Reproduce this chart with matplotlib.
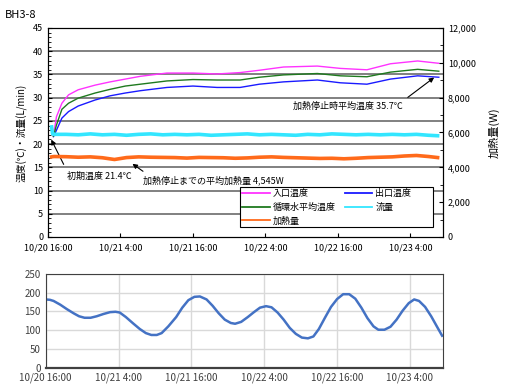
import datetime as dt
import matplotlib
matplotlib.use('Agg')
import matplotlib.pyplot as plt
import matplotlib.dates as mdates
from matplotlib.patches import Rectangle
from matplotlib.ticker import FuncFormatter, MultipleLocator

plt.rcParams['font.family'] = ['Noto Sans CJK JP', 'DejaVu Sans']

start = dt.datetime(2000, 10, 20, 16, 0)

# temperatures (hours since 10/20 16:00)
temp_hours = [0.9, 1.4, 2.3, 3.4, 5, 7.8, 10.3, 12.8, 15.3, 19.7, 24, 28, 31.8, 35, 39,
              44.6, 48.4, 52.8, 56.7, 61.2, 64.7]
inlet_temp = [21.8, 25.9, 28.8, 30.6, 31.7, 32.7, 33.4, 34.0, 34.6, 35.3, 35.3, 35.1,
              35.4, 35.9, 36.6, 36.8, 36.3, 36.0, 37.3, 37.9, 37.4]
outlet_temp = [21.6, 23.0, 25.6, 27.0, 28.2, 29.5, 30.4, 31.0, 31.5, 32.2, 32.5, 32.2,
               32.2, 32.9, 33.4, 33.8, 33.2, 32.9, 34.0, 34.7, 34.4]
avg_temp = [21.7, 24.1, 27.5, 28.8, 29.9, 31.0, 31.8, 32.5, 32.9, 33.6, 33.9, 33.8,
            33.8, 34.4, 34.9, 35.2, 34.7, 34.5, 35.5, 36.1, 35.7]

# flow and heat
flow_hours = [0.6, 0.75, 1, 3, 5, 7, 9, 11, 13, 15, 17, 19, 21, 23, 25, 27, 29, 31, 33,
              35, 37, 39, 41, 43, 45, 47, 49, 51, 53, 55, 57, 59, 61, 63, 64.5]
flow = [23.7, 22.2, 22.1, 22.1, 22.0, 22.2, 22.0, 22.1, 21.9, 22.1, 22.2, 22.0, 22.1,
        22.0, 22.1, 21.9, 22.0, 22.1, 22.2, 22.0, 22.1, 22.0, 21.9, 22.1, 22.0, 22.2,
        22.1, 22.0, 22.1, 22.0, 22.1, 22.0, 22.1, 21.9, 21.8]
heat = [4600, 4610, 4620, 4610, 4580, 4600, 4550, 4450, 4560, 4600, 4580, 4570, 4560,
        4530, 4570, 4560, 4550, 4520, 4540, 4580, 4600, 4570, 4550, 4530, 4510, 4520,
        4490, 4520, 4560, 4580, 4600, 4650, 4680, 4620, 4560]

# lower panel
low_hours = [0, 0.7, 1.3, 2.4, 3.5, 4.6, 5.5, 6.4, 7.4, 8.4, 9.5, 10.6, 11.5, 12.2,
             13.2, 14.4, 15.5, 16.5, 17.4, 18.3, 19.1, 20.2, 21.5, 22.5, 23.5, 24.5,
             25.4, 26.5, 27.5, 28.5, 29.5, 30.5, 31.2, 32.2, 33.3, 34.3, 35.3, 36.3,
             37.2, 38.2, 39.2, 40.2, 41.2, 42.2, 43.2, 44.1, 45, 46, 47, 48, 49, 50,
             51, 52, 53, 54, 54.8, 55.8, 56.8, 57.8, 58.8, 59.8, 60.7, 61.5, 62.5,
             63.5, 64.5, 65.3]
low_vals = [182, 181, 178, 168, 156, 145, 137, 133, 133, 137, 143, 148, 149, 147,
            135, 118, 103, 92, 87, 87, 92, 110, 135, 160, 180, 189, 190, 182, 165,
            145, 128, 119, 117, 122, 135, 148, 160, 164, 161, 147, 128, 106, 90, 80,
            78, 83, 103, 133, 162, 183, 196, 196, 184, 160, 132, 110, 101, 101, 109,
            128, 152, 172, 182, 178, 162, 137, 108, 85]

tick_hours = [0, 12, 24, 36, 48, 60]


def to_dates(hours):
    return [start + dt.timedelta(hours=h) for h in hours]


def fmt_date(x, pos):
    d = mdates.num2date(x)
    return f'{d.month}/{d.day} {d.hour}:{d.minute:02d}'


x0 = start
x1 = start + dt.timedelta(hours=65.4)
ticks = to_dates(tick_hours)

fig = plt.figure(figsize=(5.07, 3.91), dpi=100)

# ---- top panel
ax = fig.add_axes([0.0947, 0.3939, 0.7791, 0.5345])
ax2 = ax.twinx()
l1, = ax.plot(to_dates(temp_hours), inlet_temp, color='#ff33ff', lw=1.0, label='入口温度')
l2, = ax.plot(to_dates(temp_hours), outlet_temp, color='#1a1aff', lw=1.0, label='出口温度')
l3, = ax.plot(to_dates(temp_hours), avg_temp, color='#1f7a1f', lw=1.0, label='循環水平均温度')
l4, = ax.plot(to_dates(flow_hours), flow, color='#33e6ff', lw=2.6, label='流量')
l5, = ax2.plot(to_dates(flow_hours), heat, color='#ff6a1a', lw=2.6, label='加熱量')

ax.set_xlim(x0, x1)
ax.set_ylim(0, 45)
ax2.set_ylim(0, 12000)
ax.yaxis.set_major_locator(MultipleLocator(5))
ax.yaxis.set_minor_locator(MultipleLocator(1))
ax2.yaxis.set_major_locator(MultipleLocator(2000))
ax2.yaxis.set_minor_locator(MultipleLocator(1000))
ax2.yaxis.set_major_formatter(FuncFormatter(lambda v, p: f'{int(v):,}'))
for y in range(5, 45, 5):
    ax.axhline(y, color='#808080', lw=1.4, zorder=0)
ax.set_xticks(ticks)
ax.xaxis.set_major_formatter(FuncFormatter(fmt_date))
ax.tick_params(axis='both', labelsize=6.5, length=3, direction='in')
ax.tick_params(axis='x', pad=5)
ax.tick_params(axis='y', which='minor', length=2, direction='in')
ax2.tick_params(axis='y', labelsize=6.5, length=3, direction='in')
ax2.tick_params(axis='y', which='minor', length=2, direction='in')
ax.set_ylabel('温度(℃)・流量(L/min)', fontsize=7)
ax2.set_ylabel('加熱量(W)', fontsize=8, rotation=90, labelpad=9)

# legend box (frame drawn separately so it can be wider than its entries)
ax2.add_patch(Rectangle((0.486, 0.048), 0.489, 0.19, transform=ax.transAxes,
                        facecolor='white', edgecolor='black', lw=0.8, zorder=4))
leg = ax2.legend(handles=[l1, l3, l5, l2, l4], ncol=2, fontsize=6.5, loc='upper left',
                 bbox_to_anchor=(0.486, 0.238), bbox_transform=ax.transAxes,
                 frameon=False, borderaxespad=0, handlelength=3.1, handletextpad=0.3,
                 columnspacing=1.0, labelspacing=0.5, borderpad=0.2)
leg.set_zorder(5)
for line in leg.get_lines():
    line.set_linewidth(1.3)

arr = dict(arrowstyle='-|>', color='black', lw=0.8, mutation_scale=7)
ax.annotate('', xy=(start + dt.timedelta(hours=0.33), 21.5),
            xytext=(start + dt.timedelta(hours=2.8), 15.1), arrowprops=arr)
ax.text(start + dt.timedelta(hours=3.2), 13.1, '初期温度 21.4℃', fontsize=6.5, va='center')
ax.annotate('', xy=(start + dt.timedelta(hours=13.6), 16.1),
            xytext=(start + dt.timedelta(hours=16.1), 13.8), arrowprops=arr)
ax.text(start + dt.timedelta(hours=15.8), 12.1, '加熱停止までの平均加熱量 4,545W',
        fontsize=6.5, va='center')
ax.annotate('', xy=(start + dt.timedelta(hours=64.3), 34.7),
            xytext=(start + dt.timedelta(hours=59.2), 29.7), arrowprops=arr)
ax.text(start + dt.timedelta(hours=40.5), 28.2, '加熱停止時平均温度 35.7℃',
        fontsize=6.5, va='center')

fig.text(0.01, 0.975, 'BH3-8', fontsize=8, va='top')

# ---- bottom panel
bx = fig.add_axes([0.0901, 0.0601, 0.7831, 0.2391])
bx.plot(to_dates(low_hours), low_vals, color='#4472c4', lw=1.8)
bx.set_xlim(x0, x1)
bx.set_ylim(0, 250)
bx.yaxis.set_major_locator(MultipleLocator(50))
bx.set_xticks(ticks)
bx.xaxis.set_major_formatter(FuncFormatter(fmt_date))
bx.grid(True, color='#d9d9d9', lw=1)
bx.set_axisbelow(True)
bx.tick_params(axis='both', labelsize=7, length=0, colors='#404040')
for s in bx.spines.values():
    s.set_color('#404040')
bx.spines['bottom'].set_linewidth(1.6)

fig.savefig('out.png', dpi=100)
